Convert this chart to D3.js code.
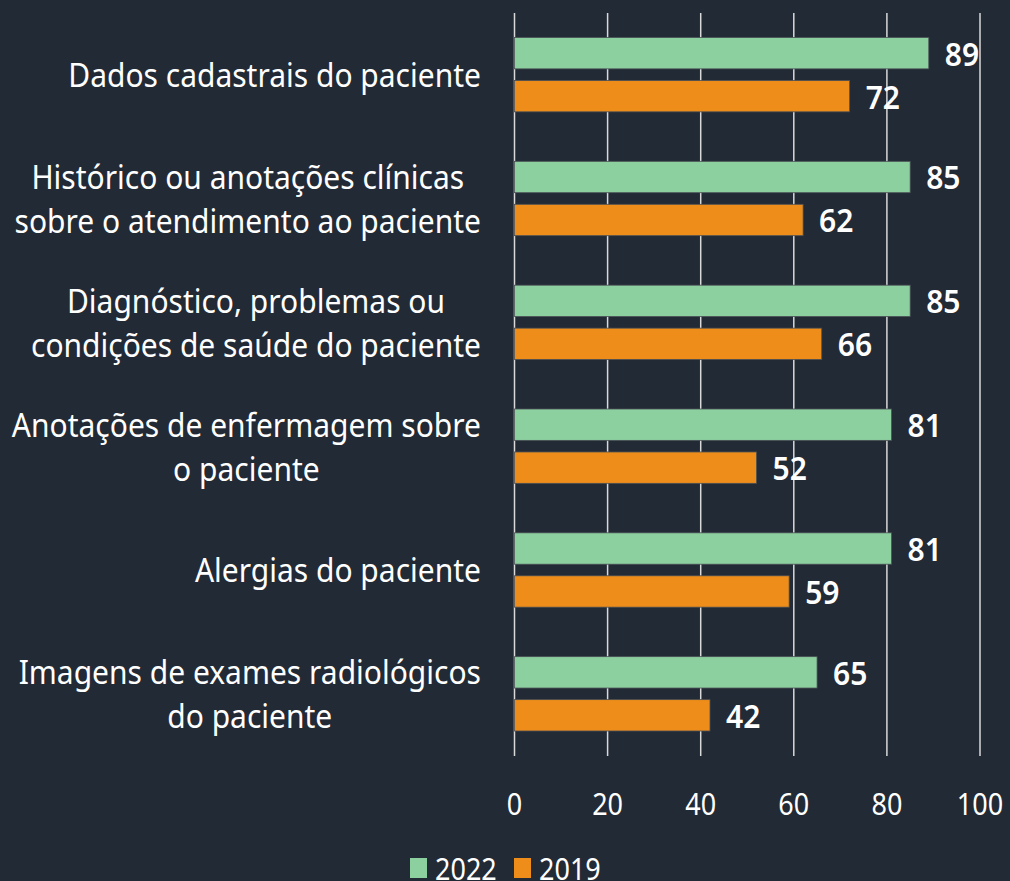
<!DOCTYPE html>
<html>
<head>
<meta charset="utf-8">
<script src="https://cdn.jsdelivr.net/npm/d3@7"></script>
<style>
  html, body { margin: 0; padding: 0; background: #222a36; }
  svg { display: block; font-family: "Noto Sans", sans-serif; }
</style>
</head>
<body>
<svg id="chart" width="1010" height="881"></svg>
<script>
// Chart data
const categories = [
  ["Dados cadastrais do paciente"],
  ["Histórico ou anotações clínicas", "sobre o atendimento ao paciente"],
  ["Diagnóstico, problemas ou", "condições de saúde do paciente"],
  ["Anotações de enfermagem sobre", "o paciente"],
  ["Alergias do paciente"],
  ["Imagens de exames radiológicos", "do paciente"]
];
const series = ["2022", "2019"];
const values2022 = [89, 85, 85, 81, 81, 65];
const values2019 = [72, 62, 66, 52, 59, 42];
const xTicks = [0, 20, 40, 60, 80, 100];

const colors = { "2022": "#8dd0a0", "2019": "#ee8d19" };
const stretch = 1.12; // text in the reference is a bit taller than wide

const svg = d3.select("#chart"),
      margin = { top: 13, right: 30, bottom: 125, left: 514.5 },
      width = +svg.attr("width"),
      height = +svg.attr("height");

const x = d3.scaleLinear().domain([0, 100]).range([margin.left, 980]);
const y = d3.scaleBand().domain(d3.range(categories.length))
    .range([margin.top, height - margin.bottom]).paddingInner(0).paddingOuter(0);
const ySub = d3.scaleBand().domain(series).range([24.5, y.bandwidth() - 25]).paddingInner(0.27);

// grid lines
svg.append("g")
  .selectAll("line")
  .data(xTicks)
  .join("line")
    .attr("x1", d => x(d)).attr("x2", d => x(d))
    .attr("y1", margin.top).attr("y2", height - margin.bottom)
    .attr("stroke", "#d9d9d9")
    .attr("stroke-width", 1.5);

// tick labels
svg.append("g")
  .selectAll("text")
  .data(xTicks)
  .join("text")
    .attr("transform", d => `translate(${x(d)},815) scale(1,${stretch})`)
    .attr("text-anchor", "middle")
    .attr("fill", "#ffffff")
    .attr("font-size", 27)
    .text(d => d);

// bars
const rows = categories.map((c, i) => ({ i, v: { "2022": values2022[i], "2019": values2019[i] } }));
const groups = svg.append("g").selectAll("g")
  .data(rows)
  .join("g")
    .attr("transform", d => `translate(0,${y(d.i)})`);

groups.selectAll("rect")
  .data(d => series.map(s => ({ s, v: d.v[s] })))
  .join("rect")
    .attr("x", x(0))
    .attr("y", d => ySub(d.s))
    .attr("width", d => x(d.v) - x(0))
    .attr("height", ySub.bandwidth())
    .attr("fill", d => colors[d.s])
    .attr("stroke", "#4a4f55")
    .attr("stroke-width", 0.8);

groups.selectAll("text")
  .data(d => series.map(s => ({ s, v: d.v[s] })))
  .join("text")
    .attr("transform", d => `translate(${x(d.v) + 16},${ySub(d.s) + ySub.bandwidth() / 2 + 1}) scale(1,1.06)`)
    .attr("dy", "0.36em")
    .attr("fill", "#ffffff")
    .attr("font-size", 30)
    .attr("font-weight", 600)
    .text(d => d.v);

// category labels: lines centred on each other, block right-aligned
const labelRight = 481, lineH = 44;
categories.forEach((lines, i) => {
  const g = svg.append("g");
  const texts = lines.map(l => g.append("text")
    .attr("fill", "#ffffff")
    .attr("font-size", 30)
    .attr("text-anchor", "middle")
    .text(l));
  const maxW = d3.max(texts, t => t.node().getComputedTextLength());
  const cy = y(i) + y.bandwidth() / 2;
  texts.forEach((t, j) => {
    const ty = cy + (j - (lines.length - 1) / 2) * lineH;
    t.attr("transform", `translate(${labelRight - maxW / 2},${ty}) scale(1,${stretch})`)
     .attr("dy", "0.36em");
  });
});

// legend
const legend = svg.append("g");
const legendX = { "2022": 410, "2019": 514 };
series.forEach(s => {
  legend.append("rect")
    .attr("x", legendX[s]).attr("y", 858)
    .attr("width", 17).attr("height", 20)
    .attr("fill", colors[s]);
  legend.append("text")
    .attr("transform", `translate(${legendX[s] + 25},880) scale(1,${stretch})`)
    .attr("fill", "#ffffff")
    .attr("font-size", 27)
    .text(s);
});
</script>
</body>
</html>
